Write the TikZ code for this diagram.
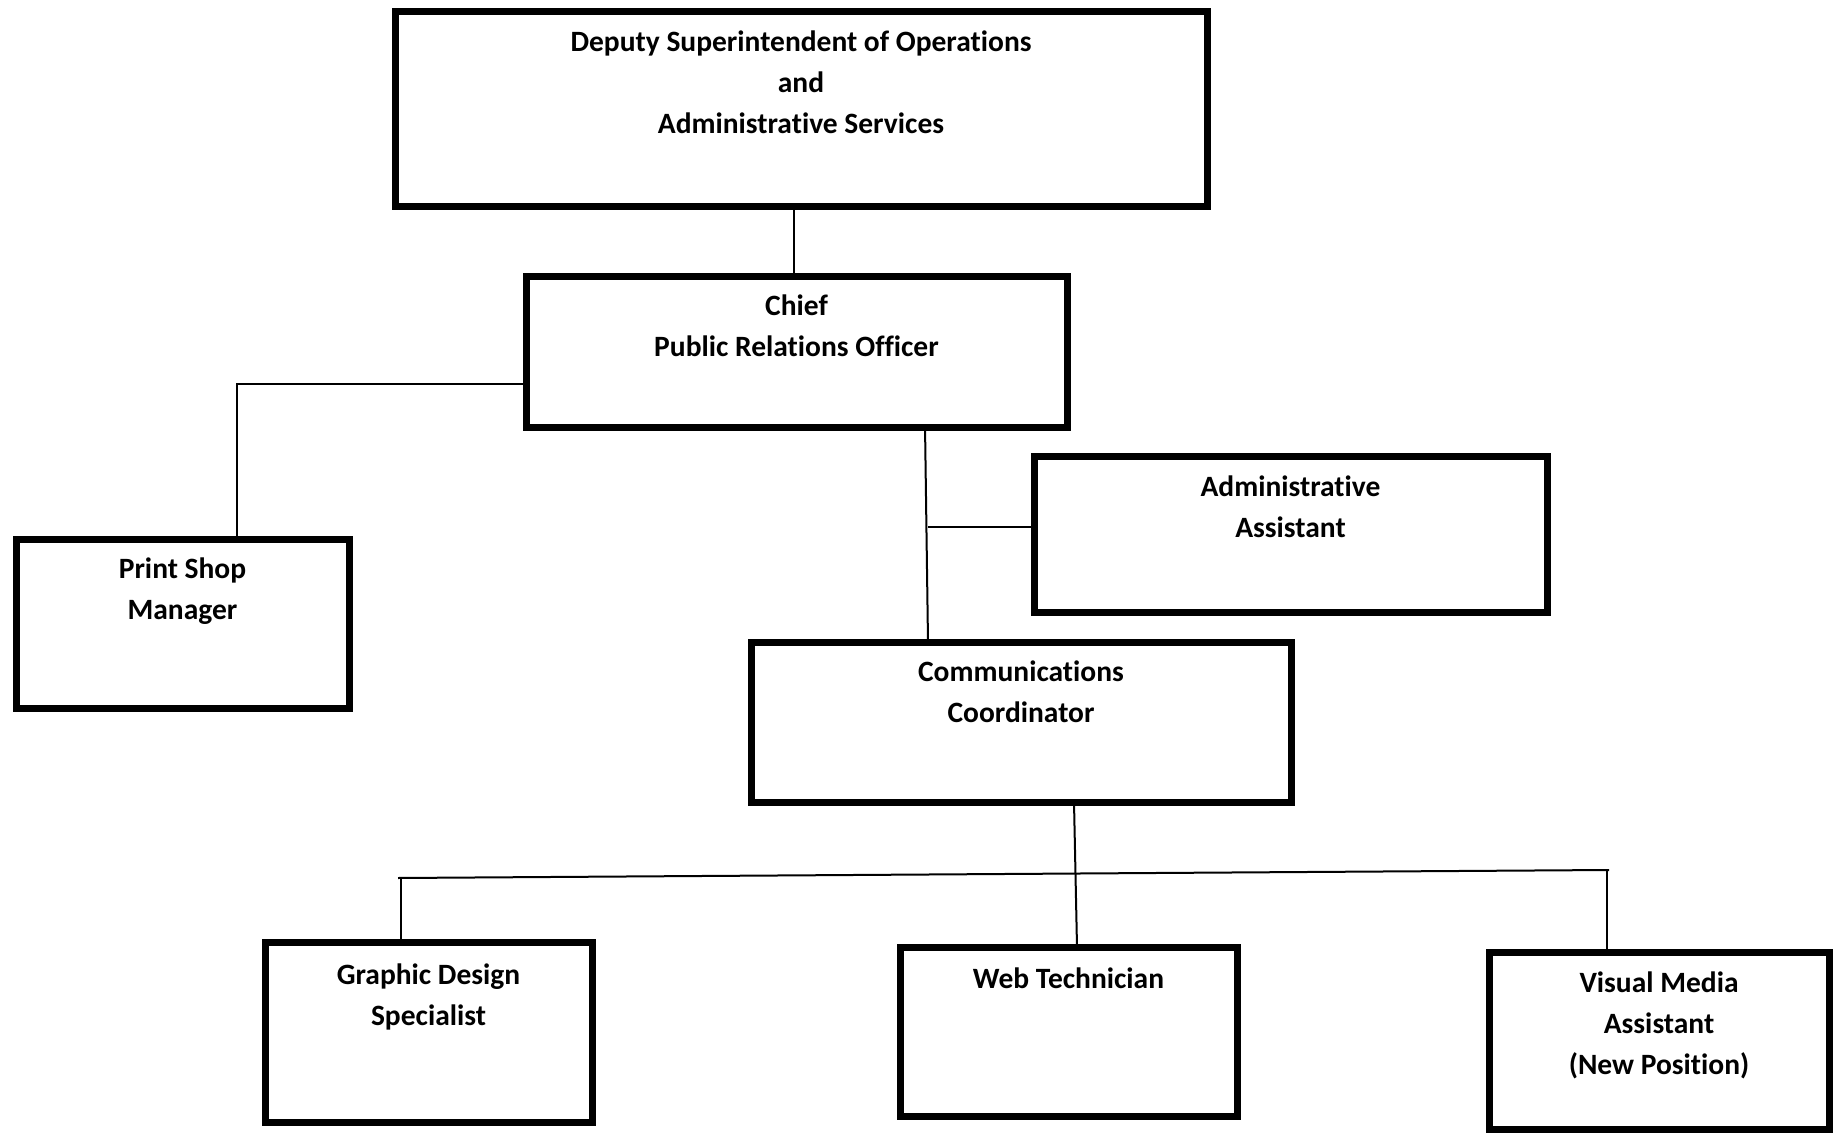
\documentclass[tikz,border=0pt]{standalone}
\usepackage{fontspec}
\setmainfont{Carlito}[Ligatures={NoCommon}]
\usetikzlibrary{calc}

\begin{document}
\begin{tikzpicture}[x=1pt, y=-1pt,
    box/.style={draw, line width=7pt, inner sep=0pt, outer sep=0pt, align=center, anchor=north,
        font=\fontsize{29.5}{41}\selectfont\bfseries},
    link/.style={line width=2pt}]
    \useasboundingbox (0,0) rectangle (1839,1134);
    % boxes (text height runs down to the last line)
    \node[box, minimum width=812pt, text height=122pt, text depth=73pt] (dso) at (801,12)
        {Deputy Superintendent of Operations\\and\\Administrative Services};
    \node[box, minimum width=541pt, text height=80pt, text depth=71pt] (chief) at (796.5,276)
        {Chief\\Public Relations Officer};
    \node[box, minimum width=333pt, text height=80pt, text depth=89pt] (print) at (182.5,539)
        {Print Shop\\Manager};
    \node[box, minimum width=513pt, text height=81pt, text depth=75pt] (admin) at (1290.5,456)
        {Administrative\\Assistant};
    \node[box, minimum width=540pt, text height=80pt, text depth=80pt] (comm) at (1021,642)
        {Communications\\Coordinator};
    \node[box, minimum width=327pt, text height=83pt, text depth=97pt] (graphic) at (428.5,942)
        {Graphic Design\\Specialist};
    \node[box, minimum width=337pt, text height=41pt, text depth=128pt] (web) at (1068.5,947)
        {Web Technician};
    \node[box, minimum width=340pt, text height=122pt, text depth=55pt] (visual) at (1659,952)
        {Visual Media\\Assistant\\(New Position)};
    % connectors
    \draw[link] ([xshift=-7pt]dso.south) -- ([xshift=-2.5pt]chief.north);
    \draw[link] ([yshift=-32.5pt]chief.west) -| ([xshift=54.5pt]print.north);
    \coordinate (ctop) at ([xshift=128.5pt, yshift=2pt]chief.south);
    \coordinate (cbot) at ([xshift=-93pt]comm.north);
    \draw[link] (ctop) -- (cbot);
    \draw[link] ([yshift=7pt]admin.west) -- ([yshift=7pt]admin.west -| cbot);
    \draw[link] ([xshift=53pt]comm.south) -- ([xshift=8.5pt]web.north);
    \coordinate (barL) at (401,878);
    \coordinate (barR) at (1607,870);
    \draw[link] ([xshift=-3pt]barL) -- ([xshift=2pt]barR);
    \draw[link] (barL) -- (barL |- graphic.north);
    \draw[link] (barR) -- (barR |- visual.north);
\end{tikzpicture}
\end{document}
